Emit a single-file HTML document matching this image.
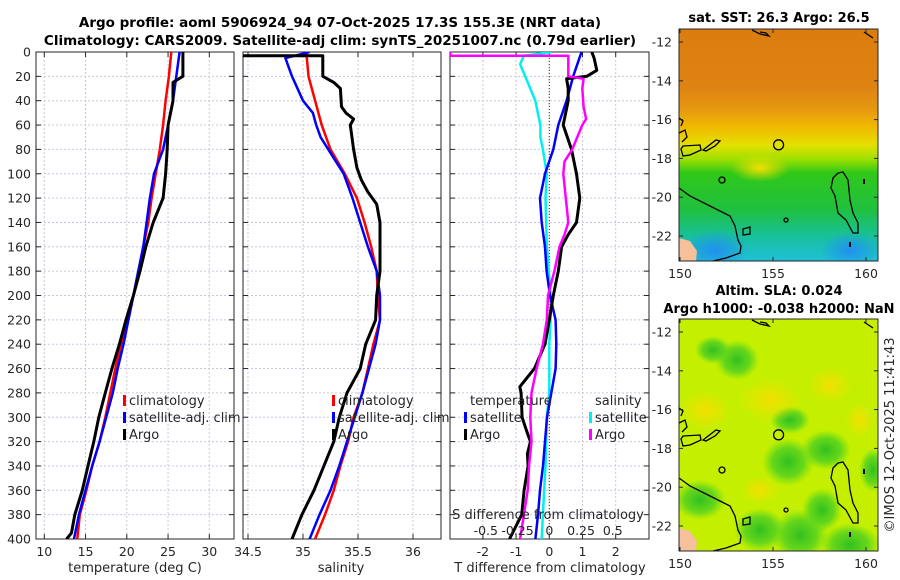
<!DOCTYPE html>
<html><head><meta charset="utf-8"><style>
html,body{margin:0;padding:0;background:#fff;}
svg{display:block;font-family:"DejaVu Sans","Liberation Sans",sans-serif;}
</style></head><body>
<svg id="fig" width="900" height="580" viewBox="0 0 900 580" xmlns="http://www.w3.org/2000/svg">
<defs>
<linearGradient id="sstGrad" x1="0" y1="0" x2="0" y2="1">
<stop offset="0" stop-color="#dc7c10"/><stop offset="0.25" stop-color="#de8212"/>
<stop offset="0.35" stop-color="#e69a10"/><stop offset="0.42" stop-color="#f0b800"/>
<stop offset="0.5" stop-color="#e4e000"/><stop offset="0.56" stop-color="#a0e000"/>
<stop offset="0.62" stop-color="#30c818"/><stop offset="0.78" stop-color="#20c040"/>
<stop offset="0.9" stop-color="#18c0a0"/><stop offset="1" stop-color="#20c0d8"/>
</linearGradient>
<radialGradient id="blueSpot" cx="0.5" cy="0.5" r="0.5"><stop offset="0" stop-color="#2090f0"/><stop offset="1" stop-color="#2090f0" stop-opacity="0"/></radialGradient>
<radialGradient id="greenSpot" cx="0.5" cy="0.5" r="0.5"><stop offset="0" stop-color="#30c020"/><stop offset="0.6" stop-color="#50d020" stop-opacity="0.8"/><stop offset="1" stop-color="#60d820" stop-opacity="0"/></radialGradient>
<radialGradient id="yellowSpot" cx="0.5" cy="0.5" r="0.5"><stop offset="0" stop-color="#f2e000"/><stop offset="1" stop-color="#f2e000" stop-opacity="0"/></radialGradient>
<clipPath id="clipTop"><rect x="679" y="29" width="199" height="232"/></clipPath>
<clipPath id="clipBot"><rect x="679" y="319" width="199" height="232"/></clipPath>
<clipPath id="clipP1"><rect x="36" y="52" width="198" height="487"/></clipPath>
<clipPath id="clipP2"><rect x="243" y="52" width="198" height="487"/></clipPath>
<clipPath id="clipP3"><rect x="450" y="52" width="199" height="487"/></clipPath>
</defs>
<text x="340" y="27" text-anchor="middle" font-size="13.5" font-weight="bold">Argo profile: aoml 5906924_94 07-Oct-2025 17.3S 155.3E (NRT data)</text>
<text x="340" y="45" text-anchor="middle" font-size="13.5" font-weight="bold">Climatology: CARS2009. Satellite-adj clim: synTS_20251007.nc (0.79d earlier)</text>
<g id="panels"></g>
<g id="maps"></g>
</svg>
<script>
// ---------- data ----------
const depthTicks = [0,20,40,60,80,100,120,140,160,180,200,220,240,260,280,300,320,340,360,380,400];
const tempTicks = [10,15,20,25,30];
const salTicks = [34.5,35,35.5,36];
const tdiffTicks = [-2,-1,0,1,2];
const sdiffTicks = [-0.5,-0.25,0,0.25,0.5];
const sdiffTickLabels = ["-0.5","-0.25","0","0.25","0.5"];

const tClimDepth = [0,20,40,60,80,100,120,140,160,180,200,220,240,260,280,300,320,340,360,380,400];
const tClim = [25.4,25.1,24.7,24.4,24.0,23.5,23.0,22.6,22.0,21.4,20.8,20.2,19.3,18.6,18.0,17.4,16.7,15.8,15.1,14.3,14.0];
const tSat = [26.4,26.0,25.6,25.0,24.4,23.3,22.8,22.4,22.0,21.4,20.8,20.2,19.6,18.9,18.3,17.5,16.7,15.8,15.0,14.2,13.6];
const tArgoDepth = [0,20,25,40,60,80,100,120,140,160,180,200,220,240,260,280,300,320,340,360,380,395,400];
const tArgo = [26.8,26.8,25.6,25.6,25.0,24.9,24.7,24.4,23.2,22.3,21.6,20.8,19.9,19.1,18.2,17.4,16.6,16.0,15.3,14.6,13.7,13.3,12.7];

const sClimDepth = [0,20,40,60,80,100,120,140,160,180,200,220,240,260,280,300,320,340,360,380,400];
const sClim = [35.03,35.05,35.11,35.17,35.25,35.38,35.49,35.56,35.62,35.67,35.68,35.70,35.64,35.59,35.54,35.46,35.41,35.34,35.28,35.20,35.11];
const sSatDepth = [0,5,15,20,40,50,60,70,80,100,120,140,160,180,200,220,240,260,280,300,320,340,360,380,400];
const sSat = [35.06,34.84,34.88,34.90,35.00,35.09,35.12,35.16,35.23,35.37,35.45,35.52,35.59,35.67,35.70,35.70,35.66,35.60,35.54,35.47,35.40,35.33,35.25,35.15,35.06];
const sArgoDepth = [0,3,3,20,25,30,45,50,55,60,80,95,105,115,125,140,180,200,220,240,260,280,300,320,340,360,380,400];
const sArgo = [34.40,34.40,35.18,35.18,35.28,35.34,35.35,35.39,35.46,35.43,35.46,35.49,35.53,35.59,35.67,35.70,35.70,35.67,35.66,35.57,35.52,35.40,35.33,35.28,35.19,35.10,34.99,34.90];

const dDepthA = [0,20,40,60,80,100,120,140,160,180,200,220,240,260,280,300,320,340,360,380,400];
const dtSat = [0.97,0.72,0.52,0.27,0.12,-0.13,-0.28,-0.23,-0.13,-0.08,0.02,0.19,0.21,0.19,0.06,-0.07,-0.13,-0.19,-0.28,-0.34,-0.42];
const dtArgoDepth = [0,5,15,20,22,30,40,60,80,100,120,140,150,160,180,200,220,240,260,275,280,300,310,320,330,340,360,380,400];
const dtArgo = [1.28,1.35,1.43,1.13,0.52,0.57,0.57,0.42,0.67,0.82,0.92,0.82,0.57,0.37,0.27,0.12,0.0,-0.13,-0.45,-0.89,-0.85,-0.82,-0.70,-0.57,-0.66,-0.64,-0.76,-0.83,-1.2];
const dsSatDepth = [0,3,10,20,40,60,70,80,100,120,160,200,220,240,280,300,340,360,380,400];
const dsSat = [0.02,-0.20,-0.23,-0.19,-0.11,-0.07,-0.07,-0.05,-0.02,-0.03,-0.02,0.01,0.01,0.0,0.0,-0.02,-0.03,-0.04,-0.05,-0.06];
const dsArgoDepth = [0,3,3,20,22,30,45,55,60,80,90,100,120,140,150,160,180,200,220,240,260,280,300,320,340,360,380,400];
const dsArgo = [-0.78,-0.78,0.15,0.15,0.27,0.26,0.27,0.29,0.26,0.18,0.12,0.11,0.13,0.15,0.12,0.08,0.04,-0.01,-0.02,-0.05,-0.10,-0.14,-0.15,-0.14,-0.16,-0.17,-0.20,-0.23];

const mapLonTicks = [150,155,160];
const mapLatTicks = [-12,-14,-16,-18,-20,-22];
const argoLon = 155.3, argoLat = -17.3;

// ---------- helpers ----------
const NS = "http://www.w3.org/2000/svg";
const yD = d => 52 + d * (487/400);
function mk(parent, tag, attrs, text){
  const e = document.createElementNS(NS, tag);
  for (const k in attrs) e.setAttribute(k, attrs[k]);
  if (text !== undefined) e.textContent = text;
  parent.appendChild(e);
  return e;
}
const panels = document.getElementById('panels');
const xT = v => 44.3 + (v-10)*8.25;
const xS = v => 248 + (v-34.5)*110;
const xDT = v => 549.3 + v*33.2;
const xDS = v => 549.3 + v*127;

function panelFrame(x0, w, xTicksV, xFn, xLabels, name){
  const g = mk(panels, 'g', {});
  
  
  depthTicks.forEach(d=>{
    const l = mk(g,'line',{x1:x0,x2:x0+w,y1:yD(d),y2:yD(d),stroke:'#c4c8e6','stroke-width':1,'stroke-dasharray':'2,2'});
    
    
  });
  xTicksV.forEach((v,i)=>{
    const l = mk(g,'line',{x1:xFn(v),x2:xFn(v),y1:52,y2:539,stroke:'#d0c4d8','stroke-width':1,'stroke-dasharray':'2,2'});
    
    
    const t = mk(g,'text',{x:xFn(v),y:556,'text-anchor':'middle','font-size':12.5,fill:'#262626'}, xLabels[i]);
    
    
    mk(g,'line',{x1:xFn(v),x2:xFn(v),y1:539,y2:534,stroke:'#262626'});
    mk(g,'line',{x1:xFn(v),x2:xFn(v),y1:52,y2:57,stroke:'#262626'});
  });
  depthTicks.forEach(d=>{
    mk(g,'line',{x1:x0,x2:x0+5,y1:yD(d),y2:yD(d),stroke:'#262626'});
    mk(g,'line',{x1:x0+w,x2:x0+w-5,y1:yD(d),y2:yD(d),stroke:'#262626'});
  });
  const r = mk(g,'rect',{x:x0,y:52,width:w,height:487,fill:'none',stroke:'#262626','stroke-width':1});
  
  
  return g;
}
function line(g, xs, ds, xFn, color, w, name, clip){
  const pts = xs.map((v,i)=> xFn(v).toFixed(1)+','+yD(ds[i]).toFixed(1)).join(' ');
  const p = mk(g,'polyline',{points:pts,fill:'none',stroke:color,'stroke-width':w,'stroke-linejoin':'round','clip-path':'url(#'+clip+')'});
  
  
}
function legend(g, x, y, items){
  items.forEach((it,i)=>{
    if (it.c) {
      const m = mk(g,'rect',{x:x-6,y:y+i*17-10,width:3,height:11,fill:it.c});
      
      
    }
    const t = mk(g,'text',{x:x,y:y+i*17,'font-size':13,fill:'#262626'}, it.t);
    
    
  });
}

// Panel 1: temperature
const g1 = panelFrame(36,198,tempTicks,xT,tempTicks.map(String),'temperature-panel');
depthTicks.forEach(d=>{
  const t = mk(g1,'text',{x:31,y:yD(d)+4.5,'text-anchor':'end','font-size':12.5,fill:'#262626'}, String(d));
  
  
});
line(g1,tClim,tClimDepth,xT,'#ff0000',2.5,'temp-climatology-line','clipP1');
line(g1,tSat,tClimDepth,xT,'#0000ff',2.5,'temp-satellite-line','clipP1');
line(g1,tArgo,tArgoDepth,xT,'#000000',3,'temp-argo-line','clipP1');
legend(g1,129,405,[{t:'climatology',c:'#ff0000'},{t:'satellite-adj. clim',c:'#0000ff'},{t:'Argo',c:'#000'}]);
let tt = mk(g1,'text',{x:135,y:572,'text-anchor':'middle','font-size':13,fill:'#262626'},'temperature (deg C)');
 

// Panel 2: salinity
const g2 = panelFrame(243,198,salTicks,xS,salTicks.map(String),'salinity-panel');
line(g2,sClim,sClimDepth,xS,'#ff0000',2.5,'sal-climatology-line','clipP2');
line(g2,sSat,sSatDepth,xS,'#0000ff',2.5,'sal-satellite-line','clipP2');
line(g2,sArgo,sArgoDepth,xS,'#000000',3,'sal-argo-line','clipP2');
legend(g2,338,405,[{t:'climatology',c:'#ff0000'},{t:'satellite-adj. clim',c:'#0000ff'},{t:'Argo',c:'#000'}]);
tt = mk(g2,'text',{x:341,y:572,'text-anchor':'middle','font-size':13,fill:'#262626'},'salinity');
 

// Panel 3: differences
const g3 = panelFrame(450,199,tdiffTicks,xDT,tdiffTicks.map(String),'difference-panel');
const z = mk(g3,'line',{x1:xDT(0),x2:xDT(0),y1:52,y2:539,stroke:'#4a5a2a','stroke-width':1.2,'stroke-dasharray':'1,2'});
 
line(g3,dsSat,dsSatDepth,xDS,'#00f0f0',2.5,'sdiff-satellite-line','clipP3');
line(g3,dtSat,dDepthA,xDT,'#0000ff',2.5,'tdiff-satellite-line','clipP3');
line(g3,dtArgo,dtArgoDepth,xDT,'#000000',3,'tdiff-argo-line','clipP3');
line(g3,dsArgo,dsArgoDepth,xDS,'#ff00ff',2.5,'sdiff-argo-line','clipP3');
legend(g3,470,405,[{t:'temperature'},{t:'satellite',c:'#0000ff'},{t:'Argo',c:'#000'}]);
legend(g3,595,405,[{t:'salinity'},{t:'satellite',c:'#00f0f0'},{t:'Argo',c:'#ff00ff'}]);
tt = mk(g3,'text',{x:548,y:519,'text-anchor':'middle','font-size':13,fill:'#262626'},'S difference from climatology');
 
sdiffTicks.forEach((v,i)=>{
  const t = mk(g3,'text',{x:xDS(v),y:535,'text-anchor':'middle','font-size':12.5,fill:'#262626'}, sdiffTickLabels[i]);
  
  
});
tt = mk(g3,'text',{x:550,y:572,'text-anchor':'middle','font-size':13,fill:'#262626'},'T difference from climatology');
 

// ---------- maps ----------
const maps = document.getElementById('maps');
function drawMap(y0, fillFn, clip, name, title1, title2){
  const g = mk(maps,'g',{});
  
  
  const inner = mk(g,'g',{'clip-path':'url(#'+clip+')'});
  fillFn(inner);
  const lonX = lon => 680 + (lon-150)*18.6;
  const latY = lat => y0 + 13 + (-12-lat)*19.4;
  mk(inner,'path',{d:`M679 ${y0+209} L690 ${y0+212} L697 ${y0+222} L696 ${y0+232} L679 ${y0+232}Z`,fill:'#f5c09a'});
  const coast = [
    `M679 ${y0+159} L690 ${y0+167} L710 ${y0+177} L730 ${y0+187} L735 ${y0+197} L738 ${y0+211} L741 ${y0+217} L740 ${y0+224} L726 ${y0+229} L713 ${y0+232}`,
    `M838 ${y0+144} L843 ${y0+143} L848 ${y0+151} L850 ${y0+171} L853 ${y0+184} L858 ${y0+194} L858 ${y0+204} L853 ${y0+204} L846 ${y0+191} L838 ${y0+184} L835 ${y0+167} L831 ${y0+159} L833 ${y0+149}Z`,
    `M683 ${y0+117} L700 ${y0+116} L701 ${y0+121} L690 ${y0+126} L683 ${y0+127} L681 ${y0+120}Z`,
    `M703 ${y0+121} L716 ${y0+111} L720 ${y0+112} L715 ${y0+117} L706 ${y0+122}Z`,
    `M679 ${y0+104} L685 ${y0+101} L687 ${y0+108} L682 ${y0+113}`,
    `M679 ${y0+89} L683 ${y0+92} L681 ${y0+97}`,
    `M743 ${y0+200} L750 ${y0+198} L750 ${y0+205} L743 ${y0+206}Z`,
    `M752 ${y0+1} L760 ${y0+5} L769 ${y0+7} L766 ${y0+4} L760 ${y0+3}`,
    `M864 ${y0+3} L873 ${y0+9}`
  ];
  coast.forEach(d=>{
    const p = mk(inner,'path',{d:d,fill:'none',stroke:'#000','stroke-width':1.3});
    
    
  });
  mk(inner,'ellipse',{cx:722,cy:y0+151,rx:3,ry:3,fill:'none',stroke:'#000','stroke-width':1.3});
  mk(inner,'ellipse',{cx:786,cy:y0+191,rx:2,ry:2,fill:'none',stroke:'#000','stroke-width':1.3});
  mk(inner,'rect',{x:863,y:y0+150,width:2,height:5,fill:'#000'});
  mk(inner,'rect',{x:849,y:y0+213,width:2,height:5,fill:'#000'});
  const c = mk(inner,'circle',{cx:lonX(argoLon),cy:latY(argoLat),r:5,fill:'none',stroke:'#000','stroke-width':1.3});
  
  
  mk(g,'rect',{x:679,y:y0,width:199,height:232,fill:'none',stroke:'#262626','stroke-width':1});
  mapLonTicks.forEach(v=>{
    const t = mk(g,'text',{x:lonX(v),y:y0+249,'text-anchor':'middle','font-size':12.5,fill:'#262626'},String(v));
    
    
    mk(g,'line',{x1:lonX(v),x2:lonX(v),y1:y0+232,y2:y0+228,stroke:'#262626'});
    mk(g,'line',{x1:lonX(v),x2:lonX(v),y1:y0,y2:y0+4,stroke:'#262626'});
  });
  mapLatTicks.forEach(v=>{
    const t = mk(g,'text',{x:672,y:latY(v)+4.5,'text-anchor':'end','font-size':12.5,fill:'#262626'},String(v));
    
    
    mk(g,'line',{x1:679,x2:683,y1:latY(v),y2:latY(v),stroke:'#262626'});
    mk(g,'line',{x1:878,x2:874,y1:latY(v),y2:latY(v),stroke:'#262626'});
  });
  if (title2) {
    let t = mk(g,'text',{x:779,y:y0-24,'text-anchor':'middle','font-size':13,'font-weight':'bold'},title1);
     
    t = mk(g,'text',{x:779,y:y0-6,'text-anchor':'middle','font-size':13,'font-weight':'bold'},title2);
     
  } else {
    const t = mk(g,'text',{x:779,y:y0-7,'text-anchor':'middle','font-size':13,'font-weight':'bold'},title1);
     
  }
}
drawMap(29, g=>{
  mk(g,'rect',{x:679,y:29,width:199,height:232,fill:'url(#sstGrad)'});
  mk(g,'ellipse',{cx:850,cy:250,rx:30,ry:18,fill:'url(#blueSpot)'});
  mk(g,'ellipse',{cx:715,cy:250,rx:35,ry:20,fill:'url(#blueSpot)'});
  mk(g,'ellipse',{cx:760,cy:168,rx:30,ry:14,fill:'url(#yellowSpot)'});
}, 'clipTop', 'sst-map', 'sat. SST: 26.3 Argo: 26.5');
drawMap(319, g=>{
  mk(g,'rect',{x:679,y:319,width:199,height:232,fill:'#c4f000'});
  const greens = [[737,360,22,20],[788,462,26,24],[826,450,25,20],[873,470,14,22],[800,535,28,26],[850,545,30,22],[822,510,20,22],[760,530,26,22],[700,500,26,20],[713,350,18,14],[790,420,20,14]];
  greens.forEach(s=>mk(g,'ellipse',{cx:s[0],cy:s[1],rx:s[2],ry:s[3],fill:'url(#greenSpot)'}));
  const yel = [[770,400,32,22],[705,410,26,20],[830,385,22,18],[760,490,20,14],[860,420,15,18]];
  yel.forEach(s=>mk(g,'ellipse',{cx:s[0],cy:s[1],rx:s[2],ry:s[3],fill:'url(#yellowSpot)'}));
}, 'clipBot', 'sla-map', 'Altim. SLA: 0.024', 'Argo h1000: -0.038 h2000: NaN');
const cr = mk(maps,'text',{x:0,y:0,'text-anchor':'middle','font-size':13,fill:'#262626',transform:'translate(894,435) rotate(-90)'},'©IMOS 12-Oct-2025 11:41:43');


</script>
</body></html>
